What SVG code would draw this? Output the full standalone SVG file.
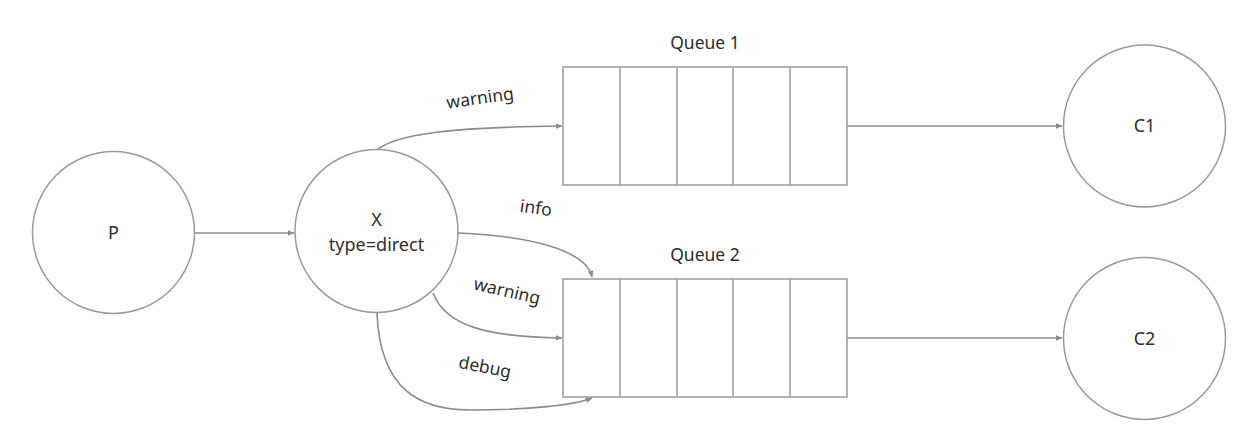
<svg xmlns="http://www.w3.org/2000/svg" width="1252" height="426" viewBox="0 0 1252 426">
<defs>
<style>
.node{fill:#fff;stroke:#9a9a9a;stroke-width:1.5}
.cell{fill:none;stroke:#9a9a9a;stroke-width:1.5}
.lbl{font-family:"Noto Sans","Open Sans",sans-serif;font-size:17.5px;fill:#2e2e2e;text-anchor:middle}
.big{font-size:18px}
.edge{fill:none;stroke:#8c8c8c;stroke-width:1.6}
</style>
<marker id="arr" viewBox="0 0 10 10" refX="9" refY="5" markerWidth="7" markerHeight="7" orient="auto" markerUnits="userSpaceOnUse">
<path d="M0,1 L10,5 L0,9 Z" fill="#8c8c8c"/>
</marker>
</defs>
<rect width="1252" height="426" fill="#fff"/>
<g id="connectors">
<line class="edge" x1="195" y1="233" x2="294" y2="233" marker-end="url(#arr)"/>
<path class="edge" d="M375,152 C392,133 460,127 562,126" marker-end="url(#arr)"/>
<path class="edge" d="M458,233 C530,236 586,250 592,277" marker-end="url(#arr)"/>
<path class="edge" d="M433,293 C445,325 485,337 562,338" marker-end="url(#arr)"/>
<path class="edge" d="M377,313 C380,390 420,410 470,410 C530,410 575,405 592,398" marker-end="url(#arr)"/>
<line class="edge" x1="847" y1="126" x2="1062" y2="126" marker-end="url(#arr)"/>
<line class="edge" x1="847" y1="338" x2="1062" y2="338" marker-end="url(#arr)"/>
<text class="lbl" x="480" y="104" transform="rotate(-8 480 98)">warning</text>
<text class="lbl" x="536" y="214" transform="rotate(8 536 208)">info</text>
<text class="lbl" x="507" y="297" transform="rotate(13 507 291)">warning</text>
<text class="lbl" x="485" y="373" transform="rotate(11 485 367)">debug</text>
</g>
<g id="P">
<circle class="node" cx="113.5" cy="232.5" r="81"/>
<text class="lbl big" x="113.5" y="239">P</text>
</g>
<g id="X">
<circle class="node" cx="376.5" cy="231" r="81.5"/>
<text class="lbl big" x="376.5" y="226">X</text>
<text class="lbl big" x="376.5" y="251">type=direct</text>
</g>
<g id="Queue1">
<text class="lbl" x="705" y="49">Queue 1</text>
<rect class="cell" x="563" y="67" width="284" height="118"/>
<line class="cell" x1="620" y1="67" x2="620" y2="185"/>
<line class="cell" x1="677" y1="67" x2="677" y2="185"/>
<line class="cell" x1="733" y1="67" x2="733" y2="185"/>
<line class="cell" x1="790" y1="67" x2="790" y2="185"/>
</g>
<g id="Queue2">
<text class="lbl" x="705" y="261">Queue 2</text>
<rect class="cell" x="563" y="279" width="284" height="118"/>
<line class="cell" x1="620" y1="279" x2="620" y2="397"/>
<line class="cell" x1="677" y1="279" x2="677" y2="397"/>
<line class="cell" x1="733" y1="279" x2="733" y2="397"/>
<line class="cell" x1="790" y1="279" x2="790" y2="397"/>
</g>
<g id="C1">
<circle class="node" cx="1144.5" cy="126" r="81"/>
<text class="lbl big" x="1144.5" y="132">C1</text>
</g>
<g id="C2">
<circle class="node" cx="1144.5" cy="338.5" r="81"/>
<text class="lbl big" x="1144.5" y="345">C2</text>
</g>
</svg>
